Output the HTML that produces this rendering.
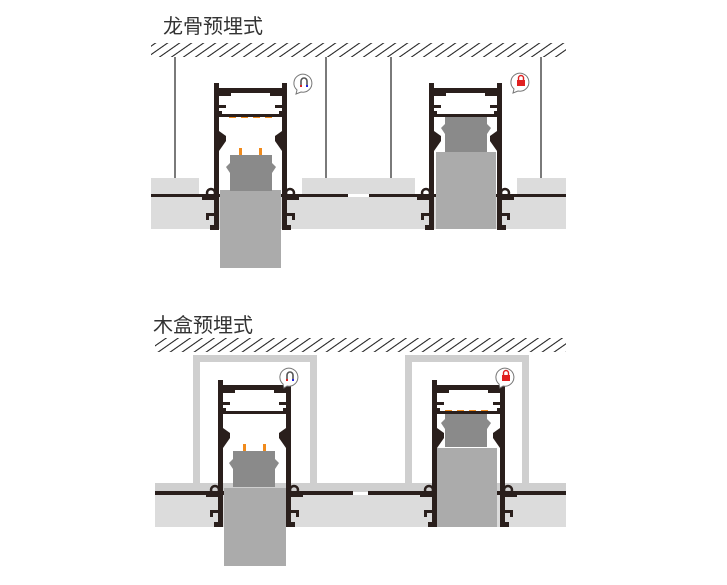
<!DOCTYPE html>
<html><head><meta charset="utf-8"><style>
html,body{margin:0;padding:0;background:#fff;}
svg{display:block;}
text{font-family:"Liberation Sans","Noto Sans CJK SC",sans-serif;}
</style></head><body>
<svg width="727" height="585" viewBox="0 0 727 585" xmlns="http://www.w3.org/2000/svg">
<defs>
<pattern id="h" patternUnits="userSpaceOnUse" width="12" height="40" patternTransform="skewX(-55)">
<rect x="0" y="0" width="2" height="40" fill="#333"/>
</pattern>
<g id="half" fill="#2a1f1c">
<rect x="0" y="0" width="5" height="147"/>
<rect x="0" y="5" width="37" height="5"/>
<rect x="5" y="10" width="12" height="3"/>
<rect x="5" y="22" width="7" height="3"/>
<rect x="5" y="31" width="32" height="3"/>
<rect x="5" y="28" width="3" height="6"/>
<polygon points="5,48 12,53 12,58 5,68"/>
<circle cx="-3" cy="110" r="4" fill="none" stroke="#2a1f1c" stroke-width="2.5"/>
<rect x="-12" y="114" width="12" height="3"/>
<rect x="-8" y="130" width="8" height="3"/>
<rect x="-8" y="130" width="3" height="7"/>
<rect x="-4" y="142" width="9" height="5"/>
</g>
<g id="prof">
<use href="#half"/>
<g transform="translate(73,0) scale(-1,1)"><use href="#half"/></g>
</g>
<g id="lampd" fill="#8a8a8a">
<polygon points="4,0 46,0 46,8 50,12 46,18 46,36 4,36 4,18 0,12 4,8"/>
</g>
</defs>

<!-- Scene 1 -->
<text x="163" y="33" font-size="20" fill="#333">龙骨预埋式</text>
<rect x="151" y="43" width="415" height="14" fill="url(#h)"/>
<g stroke="#222" stroke-width="1.2">
<line x1="175" y1="57" x2="175" y2="178"/>
<line x1="326" y1="57" x2="326" y2="178"/>
<line x1="391" y1="57" x2="391" y2="178"/>
<line x1="541" y1="57" x2="541" y2="178"/>
</g>
<g fill="#dcdcdc">
<rect x="151" y="178" width="48" height="16"/>
<rect x="302" y="178" width="113" height="16"/>
<rect x="517" y="178" width="49" height="16"/>
<rect x="151" y="197" width="415" height="32"/>
</g>
<rect x="151" y="194" width="197" height="3" fill="#2a1f1c"/>
<rect x="369" y="194" width="197" height="3" fill="#2a1f1c"/>
<!-- left fixture -->
<rect x="220" y="190" width="61" height="78" fill="#ababab"/>
<use href="#lampd" transform="translate(226,155)"/>
<rect x="239" y="148" width="3" height="7" fill="#f08a1c"/>
<rect x="259" y="148" width="3" height="7" fill="#f08a1c"/>
<g fill="#f08a1c"><rect x="229" y="116" width="7" height="2"/><rect x="241" y="116" width="7" height="2"/><rect x="253" y="116" width="7" height="2"/><rect x="265" y="116" width="7" height="2"/></g>
<use href="#prof" transform="translate(214,83)"/>
<!-- right fixture -->
<rect x="436" y="152" width="60" height="77" fill="#ababab"/>
<use href="#lampd" transform="translate(441,116)"/>
<g fill="#f08a1c"><rect x="444" y="115" width="7" height="2"/><rect x="456" y="115" width="7" height="2"/><rect x="468" y="115" width="7" height="2"/><rect x="480" y="115" width="7" height="2"/></g>
<use href="#prof" transform="translate(429,83)"/>
<!-- icons -->
<g>
<path d="M297,90 A9,9 0 1,1 301,92 L296,94 Z" fill="#fff" stroke="#777" stroke-width="1"/>
<path d="M301,85 v-4 a3,3 0 0,1 6,0 v4" fill="none" stroke="#555" stroke-width="1.6"/>
<rect x="300" y="85" width="2" height="2" fill="#d22"/><rect x="306" y="85" width="2" height="2" fill="#22d"/>
</g>
<g>
<path d="M514,89 A9,9 0 1,1 518,91 L513,93 Z" fill="#fff" stroke="#777" stroke-width="1"/>
<rect x="517" y="80" width="8" height="6" fill="#e02020"/>
<path d="M518.5,80 v-2 a2.5,2.5 0 0,1 5,0 v2" fill="none" stroke="#e02020" stroke-width="1.4"/>
</g>

<!-- Scene 2 -->
<text x="153" y="332" font-size="20" fill="#333">木盒预埋式</text>
<rect x="155" y="338" width="411" height="14" fill="url(#h)"/>
<g fill="#cfcfcf">
<rect x="155" y="483" width="411" height="9"/>
<rect x="193" y="355" width="124" height="7"/>
<rect x="193" y="355" width="7" height="136"/>
<rect x="310" y="355" width="7" height="136"/>
<rect x="405" y="355" width="124" height="7"/>
<rect x="405" y="355" width="7" height="136"/>
<rect x="522" y="355" width="7" height="136"/>
</g>
<rect x="155" y="495" width="411" height="32" fill="#dcdcdc"/>
<rect x="155" y="491" width="198" height="4" fill="#2a1f1c"/>
<rect x="368" y="491" width="198" height="4" fill="#2a1f1c"/>
<!-- left fixture -->
<rect x="224" y="488" width="62" height="78" fill="#ababab"/>
<use href="#lampd" transform="translate(229,451)"/>
<rect x="243" y="444" width="3" height="7" fill="#f08a1c"/>
<rect x="263" y="444" width="3" height="7" fill="#f08a1c"/>
<g fill="#f08a1c"><rect x="233" y="412" width="7" height="2"/><rect x="245" y="412" width="7" height="2"/><rect x="257" y="412" width="7" height="2"/><rect x="269" y="412" width="7" height="2"/></g>
<use href="#prof" transform="translate(218,380)"/>
<!-- right fixture -->
<rect x="436" y="448" width="61" height="79" fill="#ababab"/>
<use href="#lampd" transform="translate(441,411)"/>
<g fill="#f08a1c"><rect x="445" y="410" width="7" height="2"/><rect x="457" y="410" width="7" height="2"/><rect x="469" y="410" width="7" height="2"/><rect x="481" y="410" width="7" height="2"/></g>
<use href="#prof" transform="translate(432,380)"/>
<g>
<path d="M283,384 A9,9 0 1,1 287,386 L284,388 Z" fill="#fff" stroke="#777" stroke-width="1"/>
<path d="M287,379 v-4 a3,3 0 0,1 6,0 v4" fill="none" stroke="#555" stroke-width="1.6"/>
<rect x="286" y="379" width="2" height="2" fill="#d22"/><rect x="292" y="379" width="2" height="2" fill="#22d"/>
</g>
<g>
<path d="M499,384 A9,9 0 1,1 503,386 L500,388 Z" fill="#fff" stroke="#777" stroke-width="1"/>
<rect x="502" y="375" width="8" height="6" fill="#e02020"/>
<path d="M503.5,375 v-2 a2.5,2.5 0 0,1 5,0 v2" fill="none" stroke="#e02020" stroke-width="1.4"/>
</g>
</svg>
</body></html>
